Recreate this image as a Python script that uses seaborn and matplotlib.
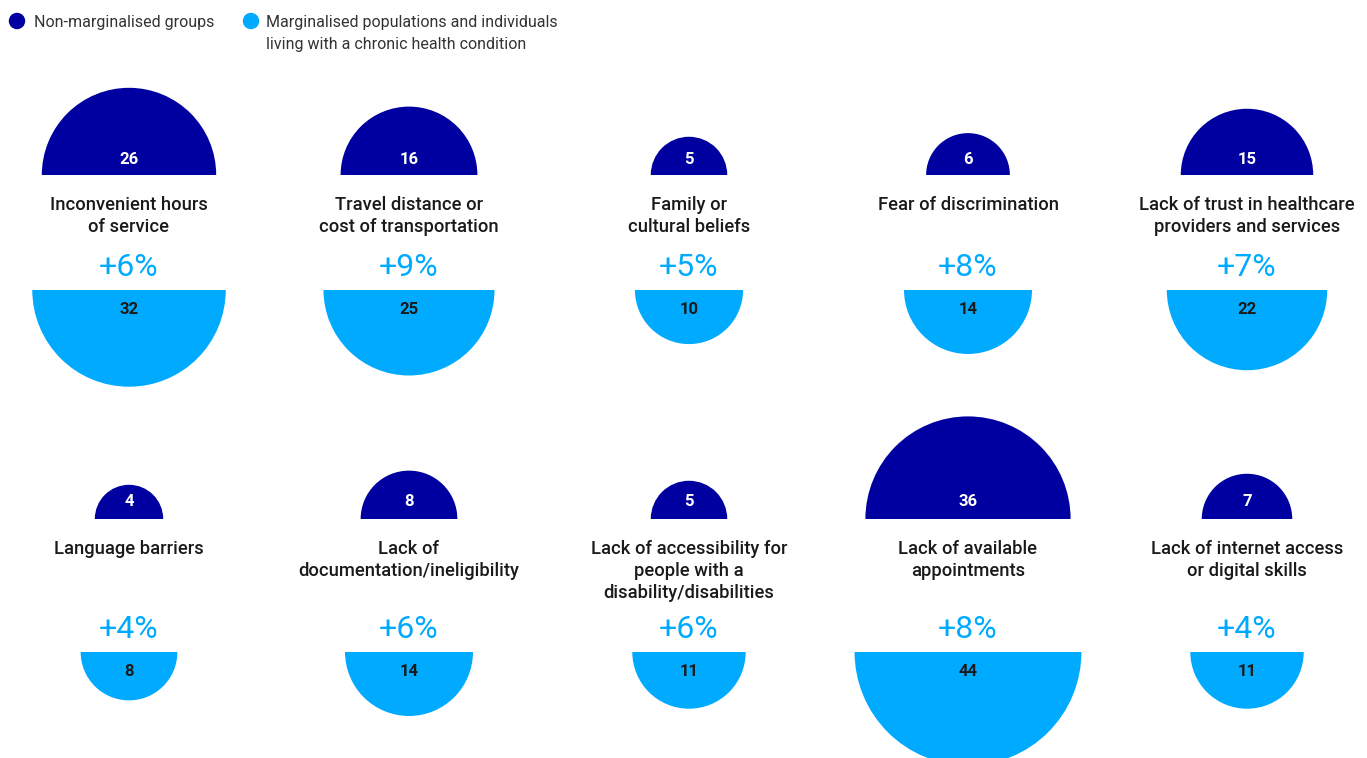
import matplotlib
matplotlib.use("Agg")
import matplotlib.pyplot as plt
from matplotlib.patches import Wedge
import seaborn as sns
import pandas as pd
import numpy as np

barriers = [
    "Inconvenient hours\nof service",
    "Travel distance or\ncost of transportation",
    "Family or\ncultural beliefs",
    "Fear of discrimination",
    "Lack of trust in healthcare\nproviders and services",
    "Language barriers",
    "Lack of\ndocumentation/ineligibility",
    "Lack of accessibility for\npeople with a\ndisability/disabilities",
    "Lack of available\nappointments",
    "Lack of internet access\nor digital skills",
]
non_marginalised = [26, 16, 5, 6, 15, 4, 8, 5, 36, 7]
marginalised = [32, 25, 10, 14, 22, 8, 14, 11, 44, 11]
differences = ["+6%", "+9%", "+5%", "+8%", "+7%", "+4%", "+6%", "+6%", "+8%", "+4%"]
legend_labels = ["Non-marginalised groups",
                 "Marginalised populations and individuals\nliving with a chronic health condition"]

DARK = "#0000A0"
LIGHT = "#00AAFF"
TEXT = "#1a1a1a"

sns.set_theme(style="white")
plt.rcParams["font.family"] = ["Roboto", "DejaVu Sans"]

W, H = 1367, 758
fig = plt.figure(figsize=(W / 100, H / 100), dpi=100)
ax = fig.add_axes([0, 0, 1, 1])

scale = 17.1  # radius per sqrt(value) -> area proportional to value
col_x = [129, 409, 689, 968, 1247]
rows = [
    dict(top=175, label=203, pct=266, bottom=290, top_val=158, bot_val=308),
    dict(top=519, label=547, pct=628, bottom=652, top_val=501, bot_val=671),
]
line_gap = 22

for i, name in enumerate(barriers):
    r = rows[i // 5]
    cx = col_x[i % 5]
    r1 = scale * np.sqrt(non_marginalised[i])
    r2 = scale * np.sqrt(marginalised[i])
    ax.add_patch(Wedge((cx, r["top"]), r1, 180, 360, color=DARK, lw=0))
    ax.add_patch(Wedge((cx, r["bottom"]), r2, 0, 180, color=LIGHT, lw=0))
    ax.text(cx, r["top_val"] + 1, str(non_marginalised[i]), color="white",
            fontsize=12, fontweight="bold", ha="center", va="center")
    ax.text(cx, r["bot_val"] + 1, str(marginalised[i]), color=TEXT,
            fontsize=12, fontweight="bold", ha="center", va="center")
    for k, line in enumerate(name.split("\n")):
        ax.text(cx, r["label"] + k * line_gap, line, color=TEXT, fontsize=13.2,
                fontweight="medium", ha="center", va="center_baseline")
    ax.text(cx, r["pct"] + 1, differences[i], color=LIGHT, fontsize=23,
            ha="center", va="center")

# legend markers
leg = pd.DataFrame({"x": [17, 251], "y": [21, 21], "group": legend_labels})
sns.scatterplot(data=leg, x="x", y="y", hue="group", palette=[DARK, LIGHT],
                s=140, edgecolor="none", legend=False, ax=ax)
ax.set_xlim(0, W)
ax.set_ylim(H, 0)
ax.set_axis_off()
ax.text(34, 21, legend_labels[0], color="#333333", fontsize=11.5,
        ha="left", va="center_baseline")
for k, line in enumerate(legend_labels[1].split("\n")):
    ax.text(266, 21 + k * 22, line, color="#333333", fontsize=11.5,
            ha="left", va="center_baseline")

fig.savefig("out.png", dpi=100)
